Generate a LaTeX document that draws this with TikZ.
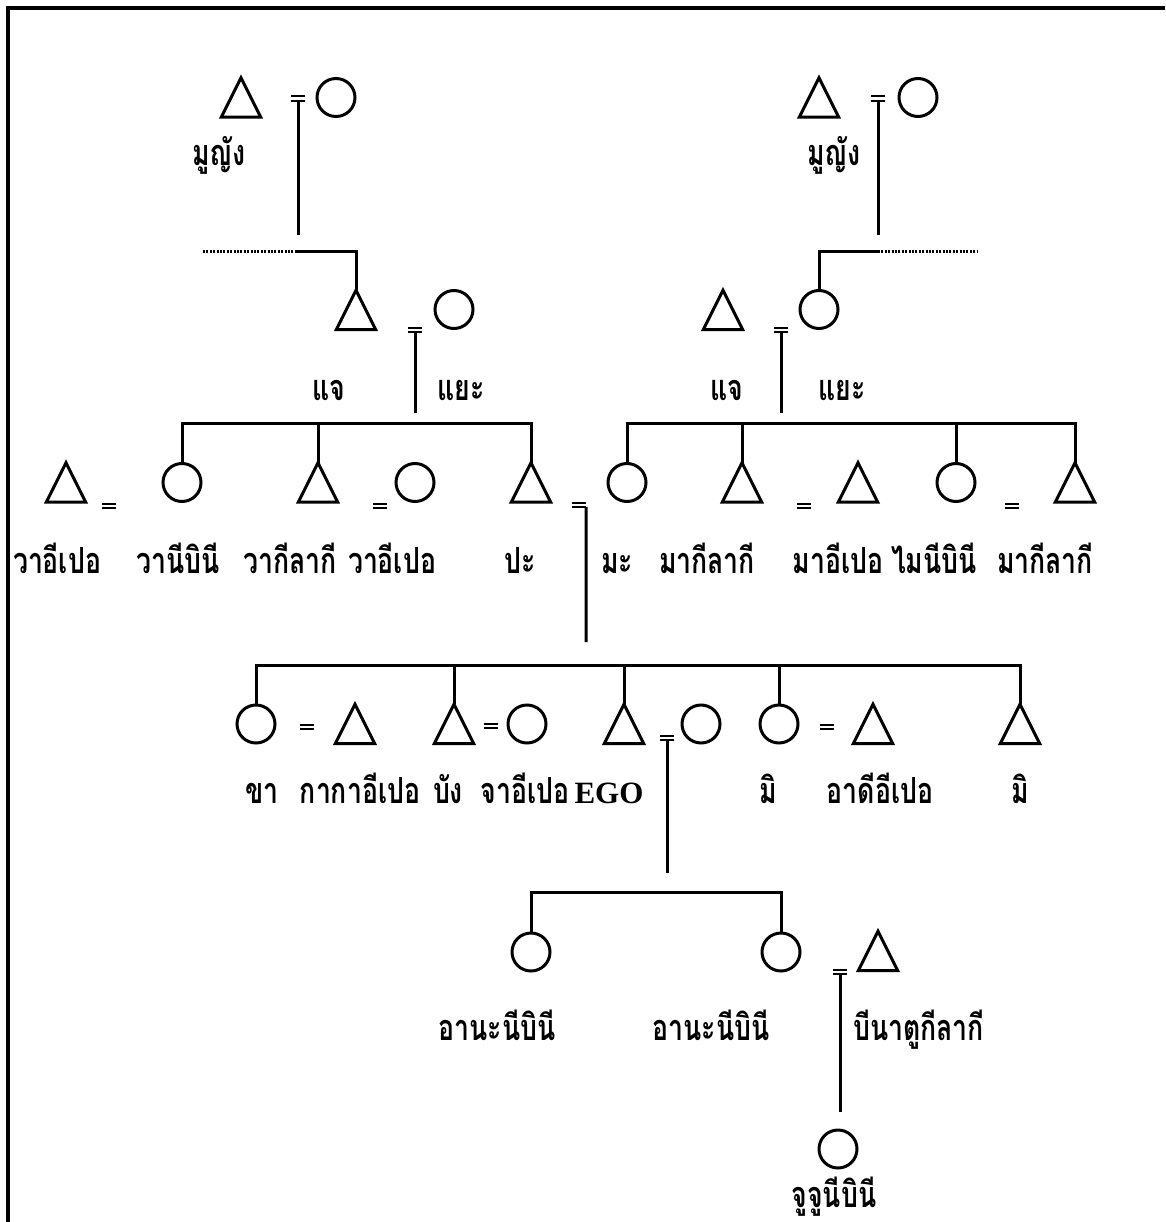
\documentclass[tikz,border=0pt]{standalone}
\usepackage{fontspec}
\newfontfamily\thaifont[Script=Thai, FakeStretch=0.74]{Loma}
\newfontfamily\egofont{Liberation Serif}
\begin{document}
\begin{tikzpicture}[x=1pt, y=-1pt,
  kin/.style={line width=3pt},
  dotline/.style={line width=3pt, dash pattern=on 2pt off 1.4pt},
  fem/.style={circle, draw, line width=3pt, minimum size=38pt, inner sep=0pt},
  male/.style={rectangle, inner sep=0pt, minimum width=39pt, minimum height=39pt},
  marr/.style={rectangle, inner sep=0pt, minimum width=14pt, minimum height=4pt},
  kinlabel/.style={font=\thaifont\bfseries\fontsize{36}{36}\selectfont, inner sep=0pt, anchor=base},
  egolabel/.style={font=\egofont\bfseries\fontsize{31}{31}\selectfont, inner sep=0pt, anchor=base}]
\useasboundingbox (0,0) rectangle (1165,1222);
% frame
\draw[line width=3.4pt] (8,1222) -- (8,8) -- (1165,8);

% ---- great-grandparents
\node[male] (ggfL) at (241,97.5) {};
\node[marr] (mG1L) at (298,98.5) {};
\node[fem]  (ggmL) at (336,97.5) {};
\node[kinlabel] (tMuL) at (219,166) {มูญัง};
\node[male] (ggfR) at (819,97.5) {};
\node[marr] (mG1R) at (878,98.5) {};
\node[fem]  (ggmR) at (918,97.5) {};
\node[kinlabel] (tMuR) at (834,166) {มูญัง};

% ---- grandparents
\node[male] (gfL) at (356,310) {};
\node[marr] (mG2L) at (415,330) {};
\node[fem]  (gmL) at (454,309.5) {};
\node[kinlabel] (tJaeL) at (329,400) {แจ};
\node[kinlabel] (tYaeL) at (461,400) {แยะ};
\node[male] (gfR) at (723,310) {};
\node[marr] (mG2R) at (781,330) {};
\node[fem]  (gmR) at (819,309.5) {};
\node[kinlabel] (tJaeR) at (727,400) {แจ};
\node[kinlabel] (tYaeR) at (842,400) {แยะ};

% ---- parents' generation
\node[male] (waipeoA) at (66,482.5) {};
\node[marr] (mWA) at (109,506) {};
\node[fem]  (wanibini) at (182,482.5) {};
\node[male] (wakilaki) at (318,482.5) {};
\node[marr] (mWB) at (380,506) {};
\node[fem]  (waipeoB) at (415,482.5) {};
\node[male] (pa) at (531,482.5) {};
\node[marr] (mPM) at (579,505) {};
\node[fem]  (ma) at (627,482.5) {};
\node[male] (makilakiA) at (742,482.5) {};
\node[marr] (mMA) at (804,506) {};
\node[male] (maipeo) at (858,482.5) {};
\node[fem]  (mainibini) at (956,482.5) {};
\node[marr] (mMB) at (1012,506) {};
\node[male] (makilakiB) at (1075,482.5) {};

\node[kinlabel] (tWaipeoA) at (57,573) {วาอีเปอ};
\node[kinlabel] (tWanibini) at (178,573) {วานีบินี};
\node[kinlabel] (tWakilaki) at (290,573) {วากีลากี};
\node[kinlabel] (tWaipeoB) at (392,573) {วาอีเปอ};
\node[kinlabel] (tPa) at (520,573) {ปะ};
\node[kinlabel] (tMa) at (617,573) {มะ};
\node[kinlabel] (tMakilakiA) at (707,573) {มากีลากี};
\node[kinlabel] (tMaipeo) at (838,573) {มาอีเปอ};
\node[kinlabel] (tMainibini) at (934,573) {ไมนีบินี};
\node[kinlabel] (tMakilakiB) at (1045,573) {มากีลากี};

% ---- ego's generation
\node[fem]  (kha) at (256,724) {};
\node[marr] (mKha) at (307,727) {};
\node[male] (kakaipeo) at (355,724) {};
\node[male] (bang) at (454,724) {};
\node[marr] (mBang) at (491,726) {};
\node[fem]  (jaipeo) at (527,724) {};
\node[male] (ego) at (624,724) {};
\node[marr] (mEgo) at (667,738) {};
\node[fem]  (egowife) at (701,724) {};
\node[fem]  (miA) at (779,724) {};
\node[marr] (mMi) at (827,727) {};
\node[male] (adiipeo) at (873,724) {};
\node[male] (miB) at (1020,724) {};

\node[kinlabel] (tKha) at (262,803) {ขา};
\node[kinlabel] (tKakaipeo) at (360,803) {กากาอีเปอ};
\node[kinlabel] (tBang) at (448,803) {บัง};
\node[kinlabel] (tJaipeo) at (525,803) {จาอีเปอ};
\node[egolabel] (tEgo) at (609,803) {EGO};
\node[kinlabel] (tMiA) at (768,803) {มิ};
\node[kinlabel] (tAdiipeo) at (880,803) {อาดีอีเปอ};
\node[kinlabel] (tMiB) at (1020,803) {มิ};

% ---- children
\node[fem]  (ananiA) at (531,952) {};
\node[fem]  (ananiB) at (781,952) {};
\node[marr] (mAna) at (840,972) {};
\node[male] (binatu) at (878,951) {};
\node[fem]  (jujuni) at (838,1149) {};
\node[kinlabel] (tAnaniA) at (497,1040) {อานะนีบินี};
\node[kinlabel] (tAnaniB) at (711,1040) {อานะนีบินี};
\node[kinlabel, anchor=base west] (tBinatu) at (853,1040) {บีนาตูกีลากี};
\node[kinlabel] (tJujuni) at (834,1207) {จูจูนีบินี};

% triangles for the men
\foreach \t in {ggfL,ggfR,gfL,gfR,waipeoA,wakilaki,pa,makilakiA,maipeo,makilakiB,
                kakaipeo,bang,ego,adiipeo,miB,binatu}
  \draw[line width=3pt, line join=miter] (\t.south west) -- (\t.north) -- (\t.south east) -- cycle;
% marriage signs
\foreach \m in {mG1L,mG1R,mG2L,mG2R,mWA,mWB,mPM,mMA,mMB,mKha,mBang,mEgo,mMi,mAna}
  \draw[line width=2.2pt] (\m.north west) -- (\m.north east) (\m.south west) -- (\m.south east);

% descent lines ending short of the sibling bars
\coordinate (eG1L) at (298,235);
\coordinate (eG1R) at (878,235);
\coordinate (eG2L) at (415,413);
\coordinate (eG2R) at (781,413);
\coordinate (ePM) at (586,642);
\coordinate (eEgo) at (667,873);
\coordinate (eAna) at (840,1112);
\draw[kin] (mG1L.south) -- (eG1L);
\draw[kin] (mG1R.south) -- (eG1R);
\draw[kin] (mG2L.south) -- (eG2L);
\draw[kin] (mG2R.south) -- (eG2R);
\draw[kin] (mPM.south east) -- (ePM);
\draw[kin] (mEgo.south) -- (eEgo);
\draw[kin] (mAna.south) -- (eAna);

% half bars leading to the grandparents
\coordinate (hbL) at (203,252);
\coordinate (hbLs) at (295,252);
\coordinate (hbR) at (978,252);
\coordinate (hbRs) at (878,252);
\draw[dotline] (hbL) -- (hbLs);
\draw[kin] (hbLs) -| (gfL.north);
\draw[dotline] (hbRs) -- (hbR);
\draw[kin] (hbRs) -| (gmR.north);

% sibling bars
\coordinate (barA) at (0,423);
\coordinate (barB) at (0,665);
\coordinate (barC) at (0,892);
\draw[kin] (wanibini.north) -- (wanibini.north |- barA) -- (pa.north |- barA) -- (pa.north);
\draw[kin] (wakilaki.north) -- (wakilaki.north |- barA);
\draw[kin] (ma.north) -- (ma.north |- barA) -- (makilakiB.north |- barA) -- (makilakiB.north);
\draw[kin] (makilakiA.north) -- (makilakiA.north |- barA);
\draw[kin] (mainibini.north) -- (mainibini.north |- barA);
\draw[kin] (kha.north) -- (kha.north |- barB) -- (miB.north |- barB) -- (miB.north);
\draw[kin] (bang.north) -- (bang.north |- barB);
\draw[kin] (ego.north) -- (ego.north |- barB);
\draw[kin] (miA.north) -- (miA.north |- barB);
\draw[kin] (ananiA.north) -- (ananiA.north |- barC) -- (ananiB.north |- barC) -- (ananiB.north);
\end{tikzpicture}
\end{document}
